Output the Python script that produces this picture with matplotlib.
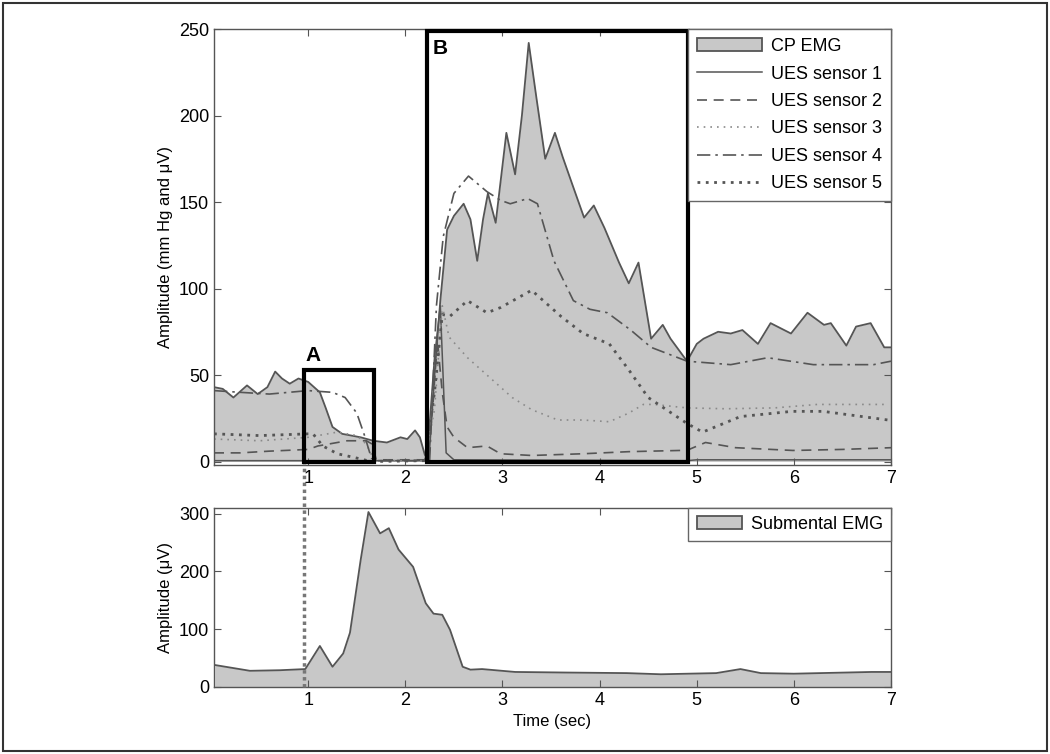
import matplotlib
matplotlib.use('Agg')
import matplotlib.pyplot as plt
from matplotlib.patches import Rectangle

plt.rcParams['font.family'] = ['Liberation Sans', 'DejaVu Sans']

# CP EMG envelope (top panel, filled)
cp_t = [0.03, 0.12, 0.23, 0.37, 0.48, 0.58, 0.66, 0.73, 0.81, 0.9, 1.0, 1.12,
        1.18, 1.25, 1.35, 1.54, 1.67, 1.81, 1.95, 2.02, 2.1, 2.15, 2.2, 2.24,
        2.3, 2.36, 2.43, 2.5, 2.6, 2.67, 2.74, 2.8, 2.85, 2.93, 3.04, 3.13,
        3.2, 3.27, 3.35, 3.44, 3.54, 3.62, 3.72, 3.84, 3.94, 4.05, 4.2, 4.3,
        4.4, 4.53, 4.65, 4.73, 4.9, 5.0, 5.07, 5.22, 5.35, 5.47, 5.63, 5.76,
        5.97, 6.14, 6.31, 6.38, 6.54, 6.64, 6.79, 6.93, 7.0]
cp_v = [43, 42, 37, 44, 39, 43, 52, 48, 45, 48, 46, 40,
        31, 20, 16, 14, 12, 11, 14, 13, 18, 14, 4, 0,
        50, 93, 134, 142, 149, 140, 116, 140, 155, 138, 190, 166,
        200, 242, 210, 175, 190, 176, 160, 141, 148, 135, 115, 103,
        115, 71, 79, 71, 58, 68, 71, 75, 74, 76, 68, 80,
        74, 86, 79, 80, 67, 78, 80, 66, 66]

# UES pressure sensors
s1_t = [0.03, 1.6, 2.22, 2.3, 2.36, 2.42, 2.5, 4.9, 5.0, 7.0]
s1_v = [0.5, 0.5, 0.5, 60, 90, 5, 1, 0.5, 1, 1]

s2_t = [0.03, 0.3, 0.6, 1.0, 1.1, 1.2, 1.4, 1.6, 1.66, 1.7, 2.2, 2.28, 2.33,
        2.38, 2.43, 2.5, 2.64, 2.84, 2.98, 3.3, 3.83, 4.3, 4.9, 5.09, 5.4,
        5.99, 6.5, 7.0]
s2_v = [5, 5, 6, 7, 9, 10, 12, 12, 10, 1, 1, 30, 70,
        40, 20, 14, 8, 9, 4.5, 3.5, 4.5, 5.7, 6.5, 11, 8,
        6.4, 7, 8]

s3_t = [0.03, 0.5, 1.0, 1.3, 1.5, 1.6, 1.66, 1.7, 2.2, 2.3, 2.38, 2.45, 2.64,
        2.9, 3.1, 3.3, 3.57, 3.83, 4.1, 4.3, 4.45, 4.56, 4.9, 5.3, 5.8, 6.24,
        6.97]
s3_v = [13, 12, 14, 17, 15, 10, 3, 0.5, 0.5, 30, 90, 72, 60,
        47, 37, 30, 24, 24, 23, 28, 33, 33, 31, 30.5, 31, 33,
        33]

s4_t = [0.03, 0.3, 0.6, 1.0, 1.25, 1.38, 1.5, 1.58, 1.65, 1.7, 2.25, 2.32,
        2.39, 2.5, 2.65, 2.84, 2.98, 3.08, 3.26, 3.36, 3.53, 3.73, 3.9, 4.08,
        4.32, 4.53, 4.9, 5.35, 5.73, 6.2, 6.82, 7.0]
s4_v = [41, 40, 39, 41, 40, 37, 28, 15, 2, 0.5, 0.5, 90,
        130, 155, 165, 156, 151, 149, 152, 149, 116, 93, 88, 86,
        76, 66, 58, 56, 60, 56, 56, 58]

s5_t = [0.03, 0.5, 1.0, 1.05, 1.15, 1.3, 1.5, 1.65, 2.2, 2.3, 2.38, 2.46,
        2.64, 2.84, 2.98, 3.3, 3.6, 3.83, 4.1, 4.3, 4.5, 4.9, 5.06, 5.45,
        5.98, 6.3, 6.97]
s5_v = [16, 15, 16, 16, 9, 4.5, 2, 0, 0.5, 40, 85, 84,
        93, 86, 89, 99, 84, 74, 68, 53, 37, 22, 17, 26,
        29, 29, 24]

# Submental EMG (bottom panel)
sm_t = [0.04, 0.4, 0.71, 0.97, 1.12, 1.25, 1.36, 1.43, 1.54, 1.62, 1.74, 1.83,
        1.93, 2.08, 2.21, 2.29, 2.38, 2.46, 2.59, 2.67, 2.79, 3.13, 3.65, 4.28,
        4.63, 5.2, 5.45, 5.66, 6.0, 6.8, 7.0]
sm_v = [38, 28, 29, 31, 71, 35, 58, 94, 220, 303, 266, 275,
        238, 208, 145, 127, 125, 99, 35, 30, 31, 26, 25, 24,
        22, 24, 31, 24, 23, 26, 26]

labels_top = ['CP EMG', 'UES sensor 1', 'UES sensor 2', 'UES sensor 3',
              'UES sensor 4', 'UES sensor 5']

fill_c = '#c8c8c8'
edge_c = '#555555'

fig = plt.figure(figsize=(10.5, 7.54), dpi=100)
ax = fig.add_axes([0.2038, 0.3833, 0.6448, 0.5782])
ax2 = fig.add_axes([0.2038, 0.0889, 0.6448, 0.2374])

# top panel
ax.fill_between(cp_t, 0, cp_v, color=fill_c, lw=0)
ax.plot(cp_t, cp_v, color=edge_c, lw=1.3)
h1, = ax.plot(s1_t, s1_v, color='#555555', lw=1.1, ls='-')
h2, = ax.plot(s2_t, s2_v, color='#555555', lw=1.2, ls=(0, (6, 4)))
h3, = ax.plot(s3_t, s3_v, color='#8a8a8a', lw=1.2, ls=(0, (1, 3)))
h4, = ax.plot(s4_t, s4_v, color='#555555', lw=1.2, ls=(0, (8, 3, 1.5, 3)))
h5, = ax.plot(s5_t, s5_v, color='#555555', lw=2.0, ls=(0, (1, 2)))

# boxes A and B
ax.add_patch(Rectangle((0.96, 0), 0.72, 53, fill=False, ec='black', lw=3,
                       clip_on=False, zorder=5))
ax.add_patch(Rectangle((2.22, 0), 2.69, 249, fill=False, ec='black', lw=3,
                       clip_on=False, zorder=5))
ax.text(0.97, 56, 'A', fontsize=15, fontweight='bold', ha='left', va='bottom')
ax.text(2.28, 244, 'B', fontsize=15, fontweight='bold', ha='left', va='top')

ax.set_xlim(0.03, 7)
ax.set_ylim(-2, 250)
ax.set_xticks(range(1, 8))
ax.set_yticks(range(0, 251, 50))
ax.set_ylabel('Amplitude (mm Hg and \u03bcV)', fontsize=12)

h_fill = Rectangle((0, 0), 1, 1, fc=fill_c, ec=edge_c, lw=1.3)
leg = ax.legend([h_fill, h1, h2, h3, h4, h5], labels_top,
                loc='upper right', bbox_to_anchor=(1, 1), borderaxespad=0,
                fontsize=13, fancybox=False, framealpha=1,
                edgecolor='#666666', handlelength=3.6, labelspacing=0.58,
                borderpad=0.5, handletextpad=0.5)
leg.get_frame().set_linewidth(1.0)

# bottom panel
ax2.fill_between(sm_t, 0, sm_v, color=fill_c, lw=0)
ax2.plot(sm_t, sm_v, color=edge_c, lw=1.3)
ax2.set_xlim(0.03, 7)
ax2.set_ylim(0, 310)
ax2.set_xticks(range(1, 8))
ax2.set_yticks([0, 100, 200, 300])
ax2.set_ylabel('Amplitude (\u03bcV)', fontsize=12)
ax2.set_xlabel('Time (sec)', fontsize=12)
h_sm = Rectangle((0, 0), 1, 1, fc=fill_c, ec=edge_c, lw=1.3)
leg2 = ax2.legend([h_sm], ['Submental EMG'], loc='upper right',
                  bbox_to_anchor=(1, 1), borderaxespad=0, fontsize=13,
                  fancybox=False, framealpha=1, edgecolor='#666666',
                  handlelength=2.5, borderpad=0.45, handletextpad=0.5)
leg2.get_frame().set_linewidth(1.0)

# dotted marker line from bottom panel up to top panel
ax2.axvline(0.96, ymin=0, ymax=1.245, color='#777777', lw=2.5,
            ls=(0, (1, 1)), clip_on=False, zorder=6)

for a in (ax, ax2):
    a.tick_params(direction='in', top=True, right=True, length=5,
                  labelsize=13, color='#555555')
    for sp in a.spines.values():
        sp.set_color('#555555')
        sp.set_linewidth(1.0)

# outer frame
fig.patches.append(Rectangle((0.003, 0.004), 0.994, 0.992,
                             transform=fig.transFigure, fill=False,
                             ec='#333333', lw=1.5))

fig.savefig('out.png', dpi=100)
